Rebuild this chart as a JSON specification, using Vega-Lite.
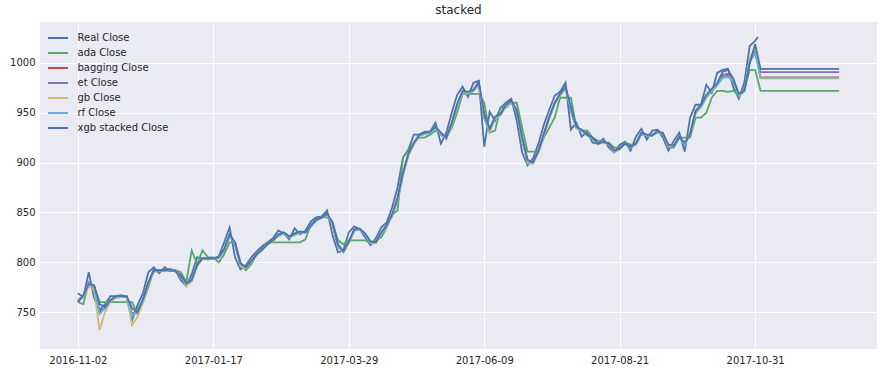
{
  "$schema": "https://vega.github.io/schema/vega-lite/v6.json",
  "width": 837,
  "height": 327,
  "autosize": {"type": "none"},
  "padding": {"left": 40, "top": 22, "right": 6, "bottom": 24},
  "background": "white",
  "title": {"text": "stacked", "fontSize": 12, "fontWeight": "normal", "color": "#262626", "font": "DejaVu Sans", "offset": 5, "anchor": "middle"},
  "data": {"values": [
    {"i":0,"real":769,"xgb":760,"ada":760,"bagging":762,"et":761,"gb":763,"rf":760},
    {"i":2,"real":765,"xgb":767,"ada":758,"bagging":766,"et":767,"gb":765,"rf":766},
    {"i":4,"real":790,"xgb":778,"ada":780,"bagging":780,"et":779,"gb":776,"rf":779},
    {"i":6,"real":764,"xgb":777,"ada":776,"bagging":775,"et":776,"gb":772,"rf":775},
    {"i":8,"real":752,"xgb":758,"ada":760,"bagging":750,"et":752,"gb":732,"rf":748},
    {"i":10,"real":758,"xgb":755,"ada":760,"bagging":754,"et":753,"gb":750,"rf":754},
    {"i":12,"real":766,"xgb":762,"ada":760,"bagging":762,"et":761,"gb":760,"rf":762},
    {"i":14,"real":766,"xgb":766,"ada":760,"bagging":765,"et":765,"gb":764,"rf":765},
    {"i":16,"real":767,"xgb":766,"ada":760,"bagging":766,"et":766,"gb":765,"rf":766},
    {"i":18,"real":765,"xgb":766,"ada":760,"bagging":765,"et":765,"gb":766,"rf":765},
    {"i":20,"real":742,"xgb":754,"ada":760,"bagging":748,"et":746,"gb":737,"rf":746},
    {"i":22,"real":757,"xgb":750,"ada":748,"bagging":752,"et":751,"gb":745,"rf":752},
    {"i":24,"real":769,"xgb":763,"ada":760,"bagging":762,"et":762,"gb":760,"rf":762},
    {"i":26,"real":790,"xgb":780,"ada":775,"bagging":779,"et":780,"gb":778,"rf":779},
    {"i":28,"real":795,"xgb":792,"ada":792,"bagging":791,"et":792,"gb":791,"rf":791},
    {"i":30,"real":789,"xgb":792,"ada":792,"bagging":791,"et":791,"gb":792,"rf":791},
    {"i":32,"real":795,"xgb":792,"ada":792,"bagging":792,"et":792,"gb":791,"rf":792},
    {"i":34,"real":791,"xgb":793,"ada":792,"bagging":792,"et":793,"gb":793,"rf":792},
    {"i":36,"real":792,"xgb":791,"ada":792,"bagging":791,"et":791,"gb":791,"rf":791},
    {"i":38,"real":782,"xgb":787,"ada":790,"bagging":786,"et":786,"gb":787,"rf":786},
    {"i":40,"real":776,"xgb":779,"ada":780,"bagging":778,"et":778,"gb":776,"rf":778},
    {"i":42,"real":788,"xgb":782,"ada":812,"bagging":783,"et":783,"gb":781,"rf":783},
    {"i":44,"real":805,"xgb":797,"ada":798,"bagging":797,"et":797,"gb":796,"rf":797},
    {"i":46,"real":804,"xgb":804,"ada":812,"bagging":804,"et":804,"gb":804,"rf":804},
    {"i":48,"real":804,"xgb":804,"ada":805,"bagging":803,"et":803,"gb":803,"rf":803},
    {"i":50,"real":804,"xgb":804,"ada":805,"bagging":804,"et":804,"gb":804,"rf":804},
    {"i":52,"real":806,"xgb":805,"ada":800,"bagging":805,"et":805,"gb":805,"rf":805},
    {"i":54,"real":820,"xgb":813,"ada":808,"bagging":813,"et":812,"gb":812,"rf":813},
    {"i":56,"real":835,"xgb":828,"ada":820,"bagging":827,"et":827,"gb":826,"rf":827},
    {"i":58,"real":805,"xgb":820,"ada":820,"bagging":818,"et":818,"gb":820,"rf":818},
    {"i":60,"real":793,"xgb":799,"ada":800,"bagging":798,"et":797,"gb":796,"rf":798},
    {"i":62,"real":797,"xgb":795,"ada":792,"bagging":795,"et":795,"gb":794,"rf":795},
    {"i":64,"real":805,"xgb":801,"ada":798,"bagging":801,"et":801,"gb":800,"rf":801},
    {"i":66,"real":811,"xgb":808,"ada":808,"bagging":808,"et":808,"gb":807,"rf":808},
    {"i":68,"real":816,"xgb":813,"ada":812,"bagging":813,"et":813,"gb":813,"rf":813},
    {"i":70,"real":820,"xgb":818,"ada":820,"bagging":818,"et":818,"gb":818,"rf":818},
    {"i":72,"real":824,"xgb":822,"ada":820,"bagging":822,"et":822,"gb":821,"rf":822},
    {"i":74,"real":832,"xgb":828,"ada":820,"bagging":827,"et":827,"gb":826,"rf":827},
    {"i":76,"real":829,"xgb":830,"ada":820,"bagging":829,"et":829,"gb":829,"rf":829},
    {"i":78,"real":823,"xgb":826,"ada":820,"bagging":825,"et":825,"gb":825,"rf":825},
    {"i":80,"real":834,"xgb":829,"ada":820,"bagging":828,"et":828,"gb":827,"rf":828},
    {"i":82,"real":828,"xgb":831,"ada":820,"bagging":830,"et":830,"gb":830,"rf":830},
    {"i":84,"real":832,"xgb":830,"ada":823,"bagging":830,"et":830,"gb":830,"rf":830},
    {"i":86,"real":841,"xgb":837,"ada":838,"bagging":836,"et":836,"gb":836,"rf":836},
    {"i":88,"real":845,"xgb":843,"ada":843,"bagging":842,"et":842,"gb":842,"rf":842},
    {"i":90,"real":846,"xgb":845,"ada":845,"bagging":845,"et":845,"gb":845,"rf":845},
    {"i":92,"real":852,"xgb":849,"ada":845,"bagging":848,"et":848,"gb":847,"rf":848},
    {"i":94,"real":827,"xgb":840,"ada":840,"bagging":838,"et":838,"gb":839,"rf":838},
    {"i":96,"real":810,"xgb":818,"ada":822,"bagging":816,"et":816,"gb":815,"rf":816},
    {"i":98,"real":812,"xgb":811,"ada":818,"bagging":811,"et":810,"gb":810,"rf":811},
    {"i":100,"real":830,"xgb":821,"ada":822,"bagging":820,"et":820,"gb":819,"rf":820},
    {"i":102,"real":836,"xgb":833,"ada":822,"bagging":832,"et":832,"gb":831,"rf":832},
    {"i":104,"real":833,"xgb":834,"ada":822,"bagging":833,"et":833,"gb":833,"rf":833},
    {"i":106,"real":825,"xgb":829,"ada":822,"bagging":828,"et":828,"gb":828,"rf":828},
    {"i":108,"real":817,"xgb":821,"ada":820,"bagging":820,"et":820,"gb":819,"rf":820},
    {"i":110,"real":824,"xgb":820,"ada":822,"bagging":820,"et":820,"gb":820,"rf":820},
    {"i":112,"real":835,"xgb":830,"ada":825,"bagging":829,"et":829,"gb":828,"rf":829},
    {"i":114,"real":840,"xgb":837,"ada":835,"bagging":837,"et":837,"gb":836,"rf":837},
    {"i":116,"real":855,"xgb":848,"ada":848,"bagging":847,"et":847,"gb":846,"rf":847},
    {"i":118,"real":875,"xgb":865,"ada":852,"bagging":863,"et":863,"gb":862,"rf":863},
    {"i":120,"real":905,"xgb":890,"ada":905,"bagging":888,"et":888,"gb":887,"rf":888},
    {"i":122,"real":913,"xgb":909,"ada":912,"bagging":908,"et":908,"gb":907,"rf":908},
    {"i":124,"real":928,"xgb":920,"ada":920,"bagging":919,"et":919,"gb":919,"rf":919},
    {"i":126,"real":928,"xgb":928,"ada":925,"bagging":927,"et":927,"gb":927,"rf":927},
    {"i":128,"real":931,"xgb":930,"ada":925,"bagging":929,"et":929,"gb":929,"rf":929},
    {"i":130,"real":931,"xgb":931,"ada":928,"bagging":930,"et":930,"gb":930,"rf":930},
    {"i":132,"real":940,"xgb":936,"ada":932,"bagging":935,"et":935,"gb":934,"rf":935},
    {"i":134,"real":919,"xgb":930,"ada":930,"bagging":928,"et":928,"gb":929,"rf":928},
    {"i":136,"real":930,"xgb":925,"ada":925,"bagging":924,"et":924,"gb":923,"rf":924},
    {"i":138,"real":950,"xgb":940,"ada":935,"bagging":939,"et":939,"gb":938,"rf":939},
    {"i":140,"real":968,"xgb":959,"ada":950,"bagging":957,"et":957,"gb":956,"rf":957},
    {"i":142,"real":976,"xgb":972,"ada":969,"bagging":970,"et":970,"gb":970,"rf":970},
    {"i":144,"real":966,"xgb":971,"ada":969,"bagging":969,"et":969,"gb":970,"rf":969},
    {"i":146,"real":980,"xgb":973,"ada":969,"bagging":972,"et":972,"gb":972,"rf":972},
    {"i":148,"real":982,"xgb":981,"ada":969,"bagging":979,"et":979,"gb":978,"rf":979},
    {"i":150,"real":916,"xgb":949,"ada":960,"bagging":945,"et":945,"gb":947,"rf":945},
    {"i":152,"real":951,"xgb":934,"ada":930,"bagging":932,"et":932,"gb":930,"rf":932},
    {"i":154,"real":942,"xgb":946,"ada":932,"bagging":945,"et":945,"gb":944,"rf":945},
    {"i":156,"real":955,"xgb":949,"ada":955,"bagging":948,"et":948,"gb":948,"rf":948},
    {"i":158,"real":960,"xgb":958,"ada":955,"bagging":957,"et":957,"gb":956,"rf":957},
    {"i":160,"real":964,"xgb":962,"ada":960,"bagging":961,"et":961,"gb":960,"rf":961},
    {"i":162,"real":942,"xgb":953,"ada":960,"bagging":951,"et":951,"gb":952,"rf":951},
    {"i":164,"real":910,"xgb":926,"ada":935,"bagging":923,"et":923,"gb":922,"rf":923},
    {"i":166,"real":897,"xgb":903,"ada":911,"bagging":901,"et":900,"gb":899,"rf":901},
    {"i":168,"real":904,"xgb":900,"ada":911,"bagging":900,"et":900,"gb":899,"rf":900},
    {"i":170,"real":919,"xgb":912,"ada":911,"bagging":911,"et":911,"gb":910,"rf":911},
    {"i":172,"real":938,"xgb":929,"ada":925,"bagging":928,"et":928,"gb":927,"rf":928},
    {"i":174,"real":953,"xgb":946,"ada":935,"bagging":945,"et":945,"gb":944,"rf":945},
    {"i":176,"real":967,"xgb":960,"ada":945,"bagging":959,"et":959,"gb":958,"rf":959},
    {"i":178,"real":971,"xgb":969,"ada":965,"bagging":968,"et":968,"gb":967,"rf":968},
    {"i":180,"real":980,"xgb":976,"ada":965,"bagging":975,"et":975,"gb":974,"rf":975},
    {"i":182,"real":933,"xgb":956,"ada":965,"bagging":952,"et":952,"gb":954,"rf":952},
    {"i":184,"real":940,"xgb":936,"ada":935,"bagging":935,"et":935,"gb":934,"rf":935},
    {"i":186,"real":926,"xgb":933,"ada":932,"bagging":932,"et":932,"gb":932,"rf":932},
    {"i":188,"real":931,"xgb":928,"ada":932,"bagging":928,"et":928,"gb":927,"rf":928},
    {"i":190,"real":920,"xgb":925,"ada":925,"bagging":924,"et":924,"gb":924,"rf":924},
    {"i":192,"real":919,"xgb":919,"ada":922,"bagging":919,"et":919,"gb":918,"rf":919},
    {"i":194,"real":924,"xgb":921,"ada":920,"bagging":921,"et":921,"gb":921,"rf":921},
    {"i":196,"real":915,"xgb":919,"ada":920,"bagging":918,"et":918,"gb":918,"rf":918},
    {"i":198,"real":910,"xgb":912,"ada":915,"bagging":911,"et":911,"gb":910,"rf":911},
    {"i":200,"real":918,"xgb":914,"ada":915,"bagging":914,"et":914,"gb":913,"rf":914},
    {"i":202,"real":921,"xgb":919,"ada":920,"bagging":919,"et":919,"gb":919,"rf":919},
    {"i":204,"real":912,"xgb":916,"ada":918,"bagging":915,"et":915,"gb":915,"rf":915},
    {"i":206,"real":926,"xgb":919,"ada":918,"bagging":919,"et":919,"gb":918,"rf":919},
    {"i":208,"real":934,"xgb":930,"ada":928,"bagging":929,"et":929,"gb":929,"rf":929},
    {"i":210,"real":923,"xgb":928,"ada":928,"bagging":927,"et":927,"gb":927,"rf":927},
    {"i":212,"real":932,"xgb":927,"ada":928,"bagging":927,"et":927,"gb":927,"rf":927},
    {"i":214,"real":933,"xgb":932,"ada":930,"bagging":931,"et":931,"gb":931,"rf":931},
    {"i":216,"real":925,"xgb":929,"ada":930,"bagging":928,"et":928,"gb":928,"rf":928},
    {"i":218,"real":912,"xgb":918,"ada":915,"bagging":917,"et":917,"gb":916,"rf":917},
    {"i":220,"real":922,"xgb":917,"ada":915,"bagging":917,"et":917,"gb":917,"rf":917},
    {"i":222,"real":930,"xgb":926,"ada":925,"bagging":925,"et":925,"gb":925,"rf":925},
    {"i":224,"real":911,"xgb":920,"ada":925,"bagging":918,"et":918,"gb":918,"rf":918},
    {"i":226,"real":945,"xgb":928,"ada":925,"bagging":929,"et":929,"gb":928,"rf":929},
    {"i":228,"real":958,"xgb":952,"ada":945,"bagging":950,"et":950,"gb":949,"rf":950},
    {"i":230,"real":958,"xgb":958,"ada":945,"bagging":956,"et":956,"gb":955,"rf":956},
    {"i":232,"real":978,"xgb":968,"ada":950,"bagging":966,"et":966,"gb":965,"rf":966},
    {"i":234,"real":970,"xgb":974,"ada":965,"bagging":972,"et":972,"gb":972,"rf":972},
    {"i":236,"real":990,"xgb":980,"ada":972,"bagging":978,"et":979,"gb":977,"rf":978},
    {"i":238,"real":993,"xgb":991,"ada":972,"bagging":986,"et":988,"gb":985,"rf":985},
    {"i":240,"real":994,"xgb":993,"ada":971,"bagging":987,"et":989,"gb":986,"rf":986},
    {"i":242,"real":975,"xgb":984,"ada":972,"bagging":981,"et":982,"gb":982,"rf":981},
    {"i":244,"real":964,"xgb":969,"ada":968,"bagging":967,"et":967,"gb":967,"rf":967},
    {"i":246,"real":980,"xgb":972,"ada":972,"bagging":972,"et":972,"gb":971,"rf":972},
    {"i":248,"real":1017,"xgb":999,"ada":993,"bagging":1003,"et":1001,"gb":1005,"rf":1003},
    {"i":250,"real":1022,"xgb":1019,"ada":993,"bagging":1012,"et":1010,"gb":1015,"rf":1010},
    {"i":251,"real":1026},
    {"i":252,"xgb":994,"ada":972,"bagging":985.5,"et":990.7,"gb":984.6,"rf":985.2},
    {"i":254,"xgb":994,"ada":972,"bagging":985.5,"et":990.7,"gb":984.6,"rf":985.2},
    {"i":256,"xgb":994,"ada":972,"bagging":985.5,"et":990.7,"gb":984.6,"rf":985.2},
    {"i":258,"xgb":994,"ada":972,"bagging":985.5,"et":990.7,"gb":984.6,"rf":985.2},
    {"i":260,"xgb":994,"ada":972,"bagging":985.5,"et":990.7,"gb":984.6,"rf":985.2},
    {"i":262,"xgb":994,"ada":972,"bagging":985.5,"et":990.7,"gb":984.6,"rf":985.2},
    {"i":264,"xgb":994,"ada":972,"bagging":985.5,"et":990.7,"gb":984.6,"rf":985.2},
    {"i":266,"xgb":994,"ada":972,"bagging":985.5,"et":990.7,"gb":984.6,"rf":985.2},
    {"i":268,"xgb":994,"ada":972,"bagging":985.5,"et":990.7,"gb":984.6,"rf":985.2},
    {"i":270,"xgb":994,"ada":972,"bagging":985.5,"et":990.7,"gb":984.6,"rf":985.2},
    {"i":272,"xgb":994,"ada":972,"bagging":985.5,"et":990.7,"gb":984.6,"rf":985.2},
    {"i":274,"xgb":994,"ada":972,"bagging":985.5,"et":990.7,"gb":984.6,"rf":985.2},
    {"i":276,"xgb":994,"ada":972,"bagging":985.5,"et":990.7,"gb":984.6,"rf":985.2},
    {"i":278,"xgb":994,"ada":972,"bagging":985.5,"et":990.7,"gb":984.6,"rf":985.2},
    {"i":281,"xgb":994,"ada":972,"bagging":985.5,"et":990.7,"gb":984.6,"rf":985.2}
  ]},
  "transform": [
    {"fold": ["real", "ada", "bagging", "et", "gb", "rf", "xgb"], "as": ["series", "close"]},
    {"filter": "isValid(datum.close)"}
  ],
  "mark": {"type": "line", "strokeWidth": 1.8, "clip": true},
  "encoding": {
    "x": {
      "field": "i", "type": "quantitative",
      "scale": {"domain": [-14, 295], "nice": false, "zero": false},
      "axis": {
        "values": [0, 50, 100, 150, 200, 250],
        "labelExpr": "datum.value == 0 ? '2016-11-02' : datum.value == 50 ? '2017-01-17' : datum.value == 100 ? '2017-03-29' : datum.value == 150 ? '2017-06-09' : datum.value == 200 ? '2017-08-21' : '2017-10-31'",
        "labelPadding": 6, "labelFlush": false, "labelOverlap": false, "title": null
      }
    },
    "y": {
      "field": "close", "type": "quantitative",
      "scale": {"domain": [713, 1041], "nice": false, "zero": false},
      "axis": {"values": [750, 800, 850, 900, 950, 1000], "format": "d", "labelPadding": 5, "title": null}
    },
    "color": {
      "field": "series", "type": "nominal",
      "scale": {
        "domain": ["real", "ada", "bagging", "et", "gb", "rf", "xgb"],
        "range": ["#4C72B0", "#55A868", "#C44E52", "#8172B2", "#CCB974", "#64B5CD", "#4C72B0"]
      },
      "legend": {
        "title": null,
        "orient": "none",
        "legendX": 9.5,
        "legendY": 7.5,
        "symbolType": "M-1.33,0H1.33",
        "symbolSize": 225,
        "symbolStrokeWidth": 2,
        "labelOffset": 11,
        "rowPadding": 1,
        "padding": 0,
        "labelFontSize": 10,
        "labelFont": "DejaVu Sans",
        "labelColor": "#262626",
        "labelExpr": "datum.label == 'real' ? 'Real Close' : datum.label == 'xgb' ? 'xgb stacked Close' : datum.label + ' Close'"
      }
    }
  },
  "config": {
    "view": {"fill": "#EAEAF2", "stroke": null},
    "axis": {
      "domain": false, "ticks": false,
      "grid": true, "gridColor": "#FFFFFF", "gridWidth": 1, "gridOpacity": 1,
      "labelFont": "DejaVu Sans", "labelFontSize": 10, "labelColor": "#262626"
    }
  }
}
